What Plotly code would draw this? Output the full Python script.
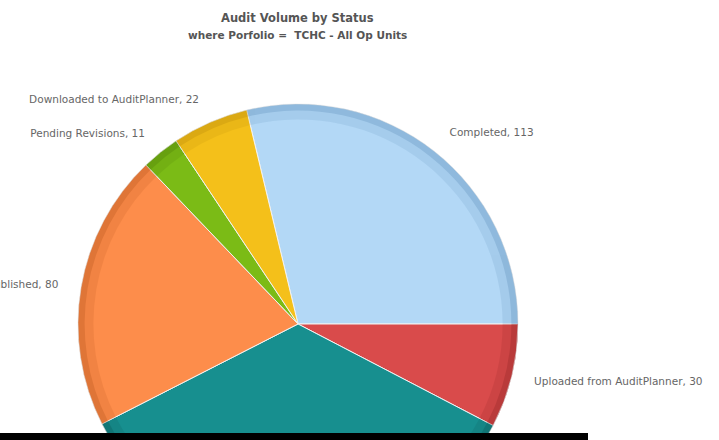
import plotly.graph_objects as go

# ---- data ----
labels = ["Completed", "Uploaded from AuditPlanner", "In Progress",
          "Published", "Pending Revisions", "Downloaded to AuditPlanner"]
values = [113, 30, 137, 80, 11, 22]
shown_label = [True, True, False, True, True, True]   # the bottom slice's label is off-screen

# ---- styles ----
colors = ["#b3d8f6", "#d94b4b", "#178f8f", "#fd8d4b", "#7bbb16", "#f4c01a"]
rim_colors = ["#5d8db8", "#8e2424", "#0b5555", "#b8561c", "#4d7d08", "#b98a0a"]

W, H = 719, 760            # figure taller than the window: the pie is cut by the viewport
cx, cy, r = 298, 324, 220  # pie centre / radius in pixels (from top-left)
label_gap = 20             # labels sit this far outside the pie edge

def px_x(x):
    return x / W

def px_y(y):
    return (H - y) / H

def domain(rad):
    return dict(x=[px_x(cx - rad), px_x(cx + rad)], y=[px_y(cy + rad), px_y(cy - rad)])

fig = go.Figure()
# main pie
fig.add_trace(go.Pie(
    labels=labels, values=values, sort=False, direction="clockwise", rotation=-13.5,
    marker=dict(colors=colors, line=dict(color="#f2f2f2", width=1)),
    textinfo="none", domain=domain(r), showlegend=False, hoverinfo="label+value",
    automargin=False,
))
# darker rim for the shaded, bevelled look
for hole, op in [(0.93, 0.16), (0.97, 0.30)]:
    fig.add_trace(go.Pie(
        labels=labels, values=values, sort=False, direction="clockwise", rotation=-13.5,
        hole=hole, opacity=op,
        marker=dict(colors=rim_colors, line=dict(width=0)),
        textinfo="none", hoverinfo="skip", domain=domain(r), showlegend=False,
        automargin=False,
    ))
# transparent, slightly larger copy that carries the outside labels
fig.add_trace(go.Pie(
    labels=labels, values=values, sort=False, direction="clockwise", rotation=-13.5,
    marker=dict(colors=["rgba(0,0,0,0)"] * len(values), line=dict(width=0)),
    texttemplate=["%{label}, %{value}" if s else "" for s in shown_label],
    textposition="outside",
    outsidetextfont=dict(family="DejaVu Sans", size=10.5, color="#666666"),
    hoverinfo="skip", domain=domain(r + label_gap), showlegend=False,
    automargin=False,
))

fig.add_annotation(text="<b>Audit Volume by Status</b>", x=px_x(297), y=px_y(18),
                   xref="paper", yref="paper", xanchor="center", yanchor="middle",
                   showarrow=False,
                   font=dict(family="DejaVu Sans", size=11.5, color="#555555"))
fig.add_annotation(text="<b>where Porfolio =  TCHC - All Op Units</b>", x=px_x(297), y=px_y(35),
                   xref="paper", yref="paper", xanchor="center", yanchor="middle",
                   showarrow=False,
                   font=dict(family="DejaVu Sans", size=10.5, color="#555555"))

# black strip along the bottom of the reference screenshot
fig.add_shape(type="rect", xref="paper", yref="paper",
              x0=0, x1=px_x(588), y0=px_y(470), y1=px_y(433),
              fillcolor="black", line=dict(width=0), layer="above")

fig.update_layout(width=W, height=H, autosize=False,
                  margin=dict(l=0, r=0, t=0, b=0, autoexpand=False),
                  paper_bgcolor="white", plot_bgcolor="white")

fig.write_html(
    "out.html",
    config={"displayModeBar": False, "responsive": False},
    default_width="719px", default_height="760px",
    post_script=(
        "document.documentElement.style.overflow='hidden';"
        "document.body.style.overflow='hidden';"
        "document.body.style.margin='0';"
        "var gd=document.getElementById('{plot_id}');"
        "gd.parentElement.style.height='440px';"
        "gd.parentElement.style.overflow='hidden';"
    ),
)
